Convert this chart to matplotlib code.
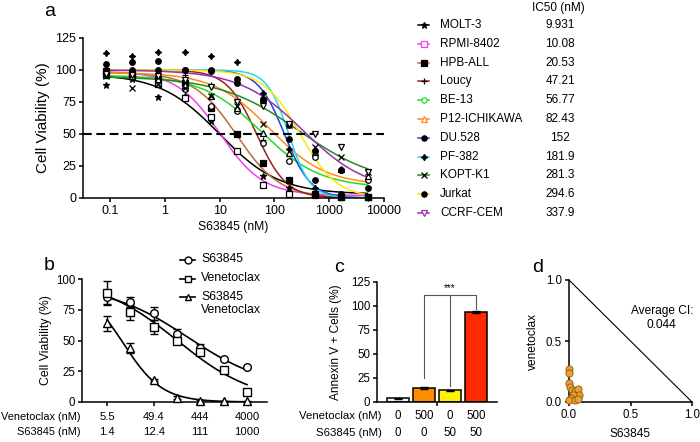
import numpy as np
import matplotlib
matplotlib.use('Agg')
import matplotlib.pyplot as plt
from matplotlib.transforms import blended_transform_factory as btf

plt.rcParams['font.family'] = ['Liberation Sans', 'DejaVu Sans']
plt.rcParams['font.size'] = 8.5
plt.rcParams['axes.linewidth'] = 1.1
plt.rcParams['xtick.major.width'] = 1.1
plt.rcParams['ytick.major.width'] = 1.1
plt.rcParams['xtick.major.size'] = 3
plt.rcParams['ytick.major.size'] = 3

# ---------------- data: panel a ----------------
doses_a = [0.0847, 0.254, 0.762, 2.29, 6.86, 20.6, 61.7, 185, 556, 1667, 5000]
cell_lines = ['MOLT-3', 'RPMI-8402', 'HPB-ALL', 'Loucy', 'BE-13', 'P12-ICHIKAWA',
              'DU.528', 'PF-382', 'KOPT-K1', 'Jurkat', 'CCRF-CEM']
ic50_labels = ['9.931', '10.08', '20.53', '47.21', '56.77', '82.43',
               '152', '181.9', '281.3', '294.6', '337.9']
fit_top = [97, 99, 98, 100, 96, 98, 100, 100, 95, 100, 100]
fit_bottom = [3, 2, 0, 0, 8, 10, 0, 0, 10, 0, 5]
fit_hill = [0.8, 1.1, 1.1, 1.6, 0.8, 0.85, 1.8, 2.2, 0.6, 1.3, 0.75]

via_molt3 = [88, 93, 79, 80, 60, 37, 17, 8, 3, 1, 1]
via_rpmi = [99, 97, 89, 78, 63, 37, 10, 3, 2, 1, 1]
via_hpb = [97, 95, 93, 90, 70, 50, 27, 14, 3, 1, 1]
via_loucy = [99, 98, 97, 96, 88, 75, 45, 14, 2, 1, 0]
via_be13 = [96, 98, 89, 85, 72, 68, 43, 29, 32, 22, 14]
via_p12 = [96, 95, 93, 88, 80, 70, 51, 35, 36, 23, 17]
via_du528 = [100, 100, 100, 100, 99, 93, 77, 46, 14, 3, 1]
via_pf382 = [113, 111, 114, 114, 111, 106, 82, 38, 8, 2, 1]
via_kopt = [95, 86, 89, 86, 80, 72, 58, 57, 40, 32, 20]
via_jurkat = [105, 106, 107, 100, 100, 90, 76, 57, 37, 22, 8]
via_ccrf = [97, 96, 95, 92, 87, 75, 72, 58, 50, 40, 20]
viabilities = [via_molt3, via_rpmi, via_hpb, via_loucy, via_be13, via_p12,
               via_du528, via_pf382, via_kopt, via_jurkat, via_ccrf]

colors_a = ['#000000', '#F040F0', '#B8703A', '#A01E1A', '#22DD22', '#FF8C1A',
            '#2040E0', '#20D8F0', '#228B22', '#FFE600', '#9B30B0']
markers_a = ['*', 's', 's', '+', 'o', '^', 'o', (4, 1, 0), 'x', 'o', 'v']
filled_a = [True, False, True, True, False, False, True, True, True, True, False]

# ---------------- data: panel b ----------------
ven_doses_b = [5.5, 16.5, 49.4, 148, 444, 1333, 4000]
ven_tick_labels = ['5.5', '49.4', '444', '4000']
s63_tick_labels = ['1.4', '12.4', '111', '1000']
b_s63 = [85, 81, 72, 55, 44, 35, 28.5]
b_s63_err = [6, 4, 5, 4, 3, 1, 1]
b_ven = [89, 73, 61, 50, 41, 26, 8]
b_ven_err = [9, 6, 6, 3, 3, 1, 1]
b_combo = [64, 44, 18, 3.5, 0.5, 0.5, 0.5]
b_combo_err = [6, 4, 1, 1, 1, 0.5, 0.5]
b_fit_top = [95, 100, 95]
b_fit_bottom = [10, 0, 0]
b_fit_ic50 = [250, 150, 12]
b_fit_hill = [0.53, 0.55, 1.1]

# ---------------- data: panel c ----------------
c_ven = ['0', '500', '0', '500']
c_s63 = ['0', '0', '50', '50']
c_values = [4, 15, 12, 94]
c_err = [0.5, 1.0, 1.0, 0.8]
c_colors = ['#F2F2F2', '#FF8C00', '#FFF200', '#FF2A00']

# ---------------- data: panel d ----------------
d_s63 = [0.002, 0.002, 0.002, 0.008, 0.022, 0.049, 0.071, 0.081, 0.035, 0.016, 0.002, 0.049, 0.076]
d_ven = [0.268, 0.235, 0.153, 0.125, 0.098, 0.093, 0.104, 0.057, 0.057, 0.030, 0.016, 0.016, 0.022]


def hill(x, top, bottom, ic50, h):
    x = np.asarray(x, float)
    return bottom + (top - bottom) / (1 + (x / ic50) ** h)


W, H = 700, 442
fig = plt.figure(figsize=(7, 4.42), dpi=100)


def ax_px(l, t, r, b):
    return fig.add_axes([l / W, 1 - b / H, (r - l) / W, (b - t) / H])


def style(ax):
    for s in ['top', 'right']:
        ax.spines[s].set_visible(False)
    ax.tick_params(direction='out', labelsize=8.5, pad=2)


# overlay in pixel coordinates for legends / letters
ov = fig.add_axes([0, 0, 1, 1], zorder=5)
ov.set_xlim(0, W)
ov.set_ylim(H, 0)
ov.axis('off')
ov.patch.set_alpha(0)

# ================= panel a =================
axa = ax_px(83, 38, 384, 198)
style(axa)
axa.tick_params(labelsize=9)
axa.set_xscale('log')
axa.set_xlim(0.032, 10000)
axa.set_ylim(0, 125)
axa.set_yticks([0, 25, 50, 75, 100, 125])
axa.set_xticks([0.1, 1, 10, 100, 1000, 10000])
axa.set_xticklabels(['0.1', '1', '10', '100', '1000', '10000'])
axa.xaxis.set_minor_locator(matplotlib.ticker.NullLocator())
xc = np.logspace(np.log10(doses_a[0]), np.log10(doses_a[-1]), 300)
ic50s = [float(v) for v in ic50_labels]
for i in range(len(cell_lines)):
    axa.plot(xc, hill(xc, fit_top[i], fit_bottom[i], ic50s[i], fit_hill[i]),
             color=colors_a[i], lw=1.1, zorder=2)
axa.axhline(50, color='k', lw=1.5, dashes=(4.2, 2.2), zorder=3)
for i in range(len(cell_lines)):
    ms = 4.5 if markers_a[i] in ('*', (4, 1, 0)) else 4
    axa.plot(doses_a, viabilities[i], ls='none', marker=markers_a[i], ms=ms,
             mfc='k' if filled_a[i] else 'white', mec='k', mew=0.9,
             zorder=4, clip_on=False)
axa.set_ylabel('Cell Viability (%)', fontsize=11)
axa.yaxis.set_label_coords((50 - 83) / 301, 0.5)
axa.set_xlabel('S63845 (nM)', fontsize=8.7, labelpad=3)

# legend a
ov.text(558, 8, 'IC50 (nM)', ha='center', va='center', fontsize=8.5)
for i, name in enumerate(cell_lines):
    y = 25 + i * 18.8
    ov.plot([418, 429], [y, y], color=colors_a[i], lw=1.1)
    ms = 4.5 if markers_a[i] in ('*', (4, 1, 0)) else 3.8
    ov.plot([423.5], [y], marker=markers_a[i], ms=ms,
            mfc='k' if filled_a[i] else 'white',
            mec='k' if filled_a[i] else colors_a[i], mew=0.9)
    ov.text(440, y, name, va='center', fontsize=8.5)
    ov.text(560, y, ic50_labels[i], ha='center', va='center', fontsize=8.5)

# ================= panel b =================
axb = ax_px(82, 279, 267, 402)
style(axb)
axb.tick_params(labelsize=8.3)
axb.set_xscale('log')
axb.set_xlim(1.70, 10260)
axb.set_ylim(0, 100)
axb.set_yticks([0, 25, 50, 75, 100])
tick_pos = ven_doses_b[::2]
axb.set_xticks(tick_pos)
axb.set_xticklabels([])
axb.xaxis.set_minor_locator(matplotlib.ticker.NullLocator())
xb = np.logspace(np.log10(ven_doses_b[0]), np.log10(ven_doses_b[-1]), 200)
series_b = [(b_s63, b_s63_err, 'o'), (b_ven, b_ven_err, 's'), (b_combo, b_combo_err, '^')]
for k, (vals, errs, mk) in enumerate(series_b):
    axb.plot(xb, hill(xb, b_fit_top[k], b_fit_bottom[k], b_fit_ic50[k], b_fit_hill[k]),
             color='k', lw=1.2, zorder=2)
    axb.errorbar(ven_doses_b, vals, yerr=errs, fmt=mk, ms=5.5, mfc='white', mec='k',
                 mew=1.0, ecolor='k', elinewidth=1.0, capsize=3, capthick=1.0,
                 zorder=3, clip_on=False)
trb = btf(axb.transData, axb.transAxes)
for p, lv, ls in zip(tick_pos, ven_tick_labels, s63_tick_labels):
    axb.text(p, -0.12, lv, transform=trb, ha='center', va='center', fontsize=8.1)
    axb.text(p, -0.245, ls, transform=trb, ha='center', va='center', fontsize=8.1)
axb.text(-0.005, -0.12, 'Venetoclax (nM)', transform=axb.transAxes, ha='right', va='center', fontsize=7.9)
axb.text(-0.005, -0.245, 'S63845 (nM)', transform=axb.transAxes, ha='right', va='center', fontsize=7.9)
axb.set_ylabel('Cell Viability (%)', fontsize=8.8)
axb.yaxis.set_label_coords((52 - 82) / 185, 0.5)

# legend b
for j, (mk, lab) in enumerate(zip(['o', 's', '^'], ['S63845', 'Venetoclax', 'S63845\nVenetoclax'])):
    y = 260 + j * 18.5
    ov.plot([180, 195], [y, y], color='k', lw=1.2)
    ov.plot([187.5], [y], marker=mk, ms=5, mfc='white', mec='k', mew=1.0)
    ov.text(201, y - 6.5, lab, va='top', fontsize=8.8, linespacing=1.15)

# ================= panel c =================
axc = ax_px(377, 282, 497, 402)
style(axc)
axc.tick_params(labelsize=8.3)
xpos = np.arange(len(c_values))
axc.bar(xpos, c_values, width=0.86, color=c_colors, edgecolor='k', linewidth=1.1, zorder=2)
axc.errorbar(xpos, c_values, yerr=c_err, fmt='none', ecolor='k', elinewidth=1.0,
             capsize=3, capthick=1.0, zorder=3)
axc.set_xlim(-0.8, 3.8)
axc.set_ylim(0, 125)
axc.set_yticks([0, 25, 50, 75, 100, 125])
axc.set_xticks([1.5])
axc.set_xticklabels([])
gray = '#555555'
axc.plot([1, 1, 3, 3], [25, 111, 111, 97], color=gray, lw=0.8, clip_on=False)
axc.plot([2, 2], [17, 111], color=gray, lw=0.8)
axc.text(2, 113, '***', ha='center', va='bottom', fontsize=7)
trc = btf(axc.transData, axc.transAxes)
for p, lv, ls in zip(xpos, c_ven, c_s63):
    axc.text(p, -0.12, lv, transform=trc, ha='center', va='center', fontsize=8.3)
    axc.text(p, -0.26, ls, transform=trc, ha='center', va='center', fontsize=8.3)
axc.text(0.04, -0.12, 'Venetoclax (nM)', transform=axc.transAxes, ha='right', va='center', fontsize=8.2)
axc.text(0.04, -0.26, 'S63845 (nM)', transform=axc.transAxes, ha='right', va='center', fontsize=8.2)
axc.set_ylabel('Annexin V + Cells (%)', fontsize=8.6)
axc.yaxis.set_label_coords((342 - 377) / 120, 0.5)

# ================= panel d =================
axd = ax_px(569, 280, 692, 402)
style(axd)
axd.tick_params(labelsize=8.3)
axd.set_xlim(0, 1)
axd.set_ylim(0, 1)
axd.set_xticks([0, 0.5, 1.0])
axd.set_yticks([0, 0.5, 1.0])
axd.set_xticklabels(['0.0', '0.5', '1.0'])
axd.set_yticklabels(['0.0', '0.5', '1.0'])
axd.plot([0, 1], [1, 0], color='k', lw=0.8)
axd.plot(d_s63, d_ven, ls='none', marker='o', ms=5.2, mfc='#F0A030', mec='#8A5A10',
         mew=0.6, clip_on=False, zorder=3)
axd.text(0.755, 0.69, 'Average CI:\n0.044', ha='center', va='center', fontsize=8.6,
         linespacing=1.2)
axd.set_xlabel('S63845', fontsize=8.6, labelpad=5)
axd.set_ylabel('venetoclax', fontsize=8.6)
axd.yaxis.set_label_coords((539 - 569) / 123, 0.5)

# panel letters
for lt, x, y in [('a', 50, 12), ('b', 49, 266), ('c', 339, 268), ('d', 538, 268)]:
    ov.text(x, y, lt, ha='center', va='center', fontsize=14)

fig.savefig('out.png', dpi=100)
